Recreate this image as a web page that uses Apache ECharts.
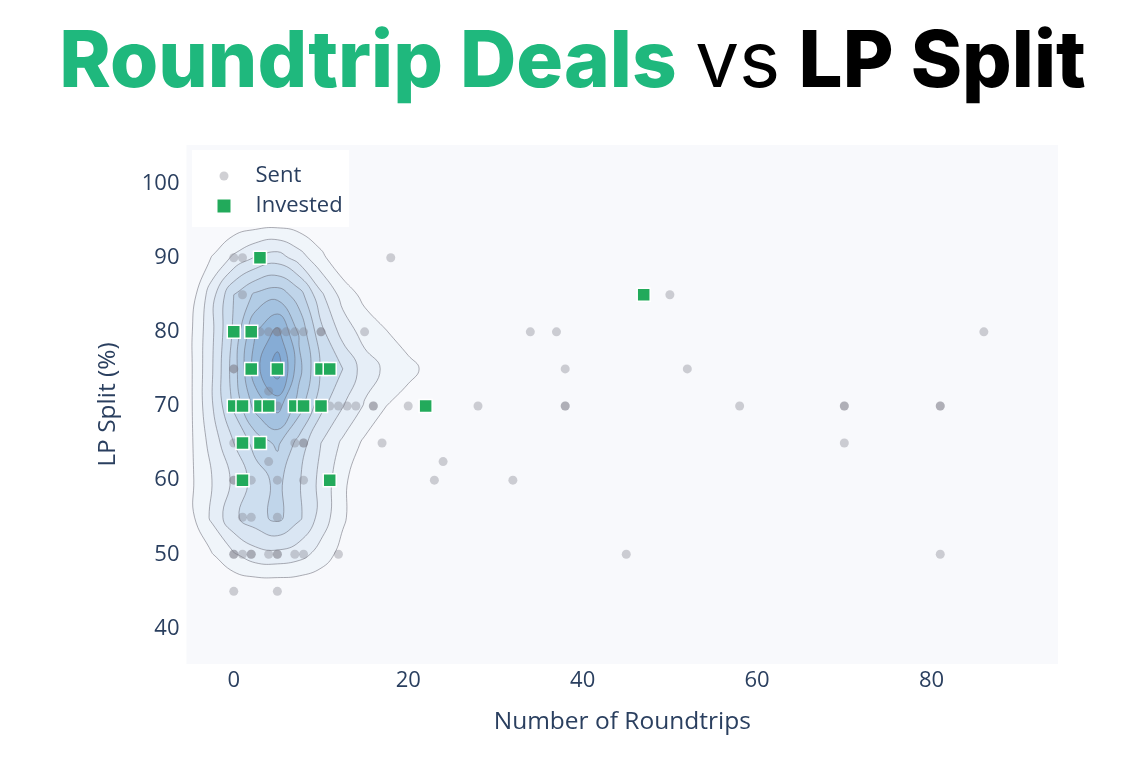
<!DOCTYPE html>
<html>
<head>
<meta charset="utf-8">
<title>Roundtrip Deals vs LP Split</title>
<script src="https://cdn.jsdelivr.net/npm/echarts@6/dist/echarts.min.js"></script>
<style>
  html, body { margin: 0; padding: 0; background: #fff; }
  #chart { width: 1145px; height: 759px; }
</style>
</head>
<body>
<div id="chart"></div>
<script>
// deals that were sent: number of roundtrips / LP split (%)
const sentX = [0, 1, 18,
  1, 50,
  3, 4, 5, 5, 6, 7, 8, 10, 10, 15, 34, 37, 86,
  0, 0, 38, 52,
  4,
  5, 11, 12, 13, 14, 16, 16, 20, 28, 38, 38, 58, 70, 70, 81, 81,
  0, 7, 8, 8, 17, 70,
  4, 24,
  0, 0, 2, 5, 8, 23, 32,
  1, 2, 5,
  0, 0, 1, 2, 2, 4, 5, 5, 7, 8, 12, 45, 81,
  0, 5];
const sentY = [90, 90, 90,
  85, 85,
  80, 80, 80, 80, 80, 80, 80, 80, 80, 80, 80, 80, 80,
  75, 75, 75, 75,
  72,
  70, 70, 70, 70, 70, 70, 70, 70, 70, 70, 70, 70, 70, 70, 70, 70,
  65, 65, 65, 65, 65, 65,
  62.5, 62.5,
  60, 60, 60, 60, 60, 60, 60,
  55, 55, 55,
  50, 50, 50, 50, 50, 50, 50, 50, 50, 50, 50, 50, 50,
  45, 45];

// deals that were invested in
const investedX = [3, 47, 0, 2, 2, 5, 10, 11, 0, 1, 3, 4, 7, 8, 10, 22, 1, 3, 1, 11];
const investedY = [90, 85, 80, 80, 75, 75, 75, 75, 70, 70, 70, 70, 70, 70, 70, 70, 65, 65, 60, 60];

// density contour: z on a grid, rows = densityY, cols = densityX
const densityX = [-7.5, -5, -2.5, 0, 2.5, 5, 7.5, 10, 12.5, 15, 17.5, 20, 22.5, 25];
const densityY = [40, 45, 50, 55, 60, 65, 70, 75, 80, 85, 90, 95, 100];
const densityZ = [
  [0, 0, 0, 0, 0, 0, 0, 0, 0, 0, 0, 0, 0, 0],
  [0, 0, 0, 0, 0, 0, 0, 0, 0, 0, 0, 0, 0, 0],
  [0, 0.1, 0.95, 1.9, 2.6, 2.7, 2.4, 1.6, 0.6, 0, 0, 0, 0, 0],
  [0, 0.7, 2.2, 3.8, 4.6, 5.3, 4.2, 2.6, 1.2, 0, 0, 0, 0, 0],
  [0, 0.8, 2.0, 3.2, 4.45, 5.3, 4.1, 2.7, 1.3, 0, 0, 0, 0, 0],
  [0, 0.8, 2.4, 4.0, 5.4, 6.2, 4.6, 3.0, 1.8, 0.8, 0, 0, 0, 0],
  [0, 0.8, 2.9, 5.2, 7.4, 8.4, 6.5, 4.3, 3.05, 1.9, 1.0, 0.4, 0, 0],
  [0, 0.8, 2.9, 5.5, 8.6, 10.6, 7.3, 4.9, 4.0, 2.5, 1.8, 1.4, 0.6, 0],
  [0, 0.8, 2.8, 5.2, 8.0, 9.3, 6.8, 4.3, 2.6, 1.6, 1.05, 0.3, 0, 0],
  [0, 0.4, 2.6, 5.0, 6.2, 6.6, 5.5, 3.2, 1.6, 0.7, 0, 0, 0, 0],
  [0, 0, 1.05, 2.2, 3.1, 3.5, 2.5, 1.25, 0.2, 0, 0, 0, 0, 0],
  [0, 0, 0, 0.2, 0.35, 0.4, 0.3, 0.1, 0, 0, 0, 0, 0, 0],
  [0, 0, 0, 0, 0, 0, 0, 0, 0, 0, 0, 0, 0, 0]
];
const contourLevels = [1, 2, 3, 4, 5, 6, 7, 8, 9, 10];

const xTicks = [0, 20, 40, 60, 80];
const yTicks = [40, 50, 60, 70, 80, 90, 100];

const contourColors = ['#f0f5fa', '#e6eef7', '#dae6f3', '#cddeef', '#c0d5ea',
  '#b2cce5', '#a4c2e0', '#95b8db', '#86acd5', '#76a0cf'];
const axisColor = '#2a3f5f';

// marching squares -> closed rings for one level
function contourRings(level) {
  const pts = {};
  const segs = [];
  const adj = {};
  const nx = densityX.length, ny = densityY.length;
  const lerp = (a, b, va, vb) => a + (level - va) / (vb - va) * (b - a);
  for (let j = 0; j < ny - 1; j++) {
    for (let i = 0; i < nx - 1; i++) {
      const v0 = densityZ[j][i], v1 = densityZ[j][i + 1], v2 = densityZ[j + 1][i + 1], v3 = densityZ[j + 1][i];
      const b0 = v0 >= level, b1 = v1 >= level, b2 = v2 >= level, b3 = v3 >= level;
      const x0 = densityX[i], x1 = densityX[i + 1], y0 = densityY[j], y1 = densityY[j + 1];
      const e = [];
      if (b0 !== b1) { const k = 'h' + i + '_' + j; pts[k] = [lerp(x0, x1, v0, v1), y0]; e[0] = k; }
      if (b1 !== b2) { const k = 'v' + (i + 1) + '_' + j; pts[k] = [x1, lerp(y0, y1, v1, v2)]; e[1] = k; }
      if (b3 !== b2) { const k = 'h' + i + '_' + (j + 1); pts[k] = [lerp(x0, x1, v3, v2), y1]; e[2] = k; }
      if (b0 !== b3) { const k = 'v' + i + '_' + j; pts[k] = [x0, lerp(y0, y1, v0, v3)]; e[3] = k; }
      const keys = e.filter(k => k);
      if (keys.length === 2) {
        segs.push(keys);
      } else if (keys.length === 4) {
        const mid = (v0 + v1 + v2 + v3) / 4 >= level;
        if (b0 === mid) { segs.push([e[0], e[1]]); segs.push([e[2], e[3]]); }
        else { segs.push([e[0], e[3]]); segs.push([e[1], e[2]]); }
      }
    }
  }
  segs.forEach((s, n) => s.forEach(k => (adj[k] = adj[k] || []).push(n)));
  const used = segs.map(() => false);
  const rings = [];
  segs.forEach((s, n) => {
    if (used[n]) return;
    used[n] = true;
    const start = s[0];
    let cur = s[1];
    const ring = [pts[start], pts[cur]];
    while (cur !== start) {
      const next = adj[cur].find(m => !used[m]);
      if (next === undefined) break;
      used[next] = true;
      cur = segs[next][0] === cur ? segs[next][1] : segs[next][0];
      if (cur !== start) ring.push(pts[cur]);
    }
    rings.push(ring);
  });
  return rings;
}

const contourItems = [];
contourLevels.forEach((lv, li) => {
  contourRings(lv).forEach(ring => contourItems.push({ level: li, ring: ring }));
});

const sentData = sentX.map((x, i) => [x, sentY[i]]);
const investedData = investedX.map((x, i) => [x, investedY[i]]);

const chart = echarts.init(document.getElementById('chart'));
chart.setOption({
  backgroundColor: '#fff',
  animation: false,
  title: {
    text: '{g|Roundtrip Deals} {n|vs} {b|LP Split}',
    left: 'center',
    top: 20,
    textStyle: {
      fontFamily: 'Inter',
      fontSize: 78,
      lineHeight: 78,
      rich: {
        g: { fontFamily: 'Inter', fontWeight: 800, fontSize: 78, lineHeight: 78, color: '#1fb87d' },
        n: { fontFamily: 'Inter', fontWeight: 400, fontSize: 78, lineHeight: 78, color: '#000' },
        b: { fontFamily: 'Inter', fontWeight: 800, fontSize: 78, lineHeight: 78, color: '#000' }
      }
    }
  },
  grid: {
    left: 186.5, right: 87, top: 145, bottom: 95,
    show: true, backgroundColor: '#f8f9fc', borderWidth: 0
  },
  graphic: [{
    type: 'rect', left: 192, top: 150, z: 10,
    shape: { width: 157, height: 77 },
    style: { fill: '#fff' }
  }],
  legend: [{
    data: [{ name: 'Sent', icon: 'circle', itemStyle: { color: 'rgba(125,125,135,0.36)', borderWidth: 0 } }],
    left: 219.5, top: 165, padding: 0, z: 20,
    itemWidth: 9, itemHeight: 9, selectedMode: false,
    textStyle: { fontFamily: 'Open Sans', fontSize: 22, lineHeight: 22, color: axisColor, padding: [0, 0, 0, 22] }
  }, {
    data: [{ name: 'Invested', icon: 'rect', itemStyle: { color: '#22aa5b', borderWidth: 0 } }],
    left: 217.5, top: 195, padding: 0, z: 20,
    itemWidth: 13, itemHeight: 13, selectedMode: false,
    textStyle: { fontFamily: 'Open Sans', fontSize: 22, lineHeight: 22, color: axisColor, padding: [0, 0, 0, 20] }
  }],
  xAxis: {
    type: 'value', min: -5.42, max: 94.5,
    axisLine: { show: false }, axisTick: { show: false }, splitLine: { show: false },
    axisLabel: { customValues: xTicks, fontFamily: 'Open Sans', fontSize: 22, color: axisColor, margin: 6 },
    name: 'Number of Roundtrips', nameLocation: 'middle', nameGap: 46,
    nameTextStyle: { fontFamily: 'Open Sans', fontSize: 24.5, color: axisColor }
  },
  yAxis: {
    type: 'value', min: 35.2, max: 105.2,
    axisLine: { show: false }, axisTick: { show: false }, splitLine: { show: false },
    axisLabel: { customValues: yTicks, fontFamily: 'Open Sans', fontSize: 22, color: axisColor, margin: 7 },
    name: 'LP Split (%)', nameLocation: 'middle', nameGap: 66, nameRotate: 90,
    nameTextStyle: { fontFamily: 'Open Sans', fontSize: 24.5, color: axisColor }
  },
  series: [
    {
      name: 'density',
      type: 'custom',
      silent: true,
      clip: true,
      z: 1,
      encode: { x: 0, y: 1 },
      data: contourItems.map((c, n) => [c.ring[0][0], c.ring[0][1], n]),
      renderItem: function (params, api) {
        const c = contourItems[api.value(2)];
        return {
          type: 'polygon',
          shape: { points: c.ring.map(p => api.coord(p)), smooth: 0.45 },
          style: { fill: contourColors[c.level], stroke: 'rgba(105,105,115,0.6)', lineWidth: 0.9 }
        };
      }
    },
    {
      name: 'Sent',
      type: 'scatter',
      z: 2,
      symbol: 'circle',
      symbolSize: 9,
      itemStyle: { color: 'rgba(125,125,135,0.36)', opacity: 1 },
      data: sentData
    },
    {
      name: 'Invested',
      type: 'scatter',
      z: 3,
      symbol: 'rect',
      symbolSize: 13,
      itemStyle: { color: '#22aa5b', borderColor: '#fff', borderWidth: 1.5, opacity: 1 },
      data: investedData
    }
  ]
});
</script>
</body>
</html>
